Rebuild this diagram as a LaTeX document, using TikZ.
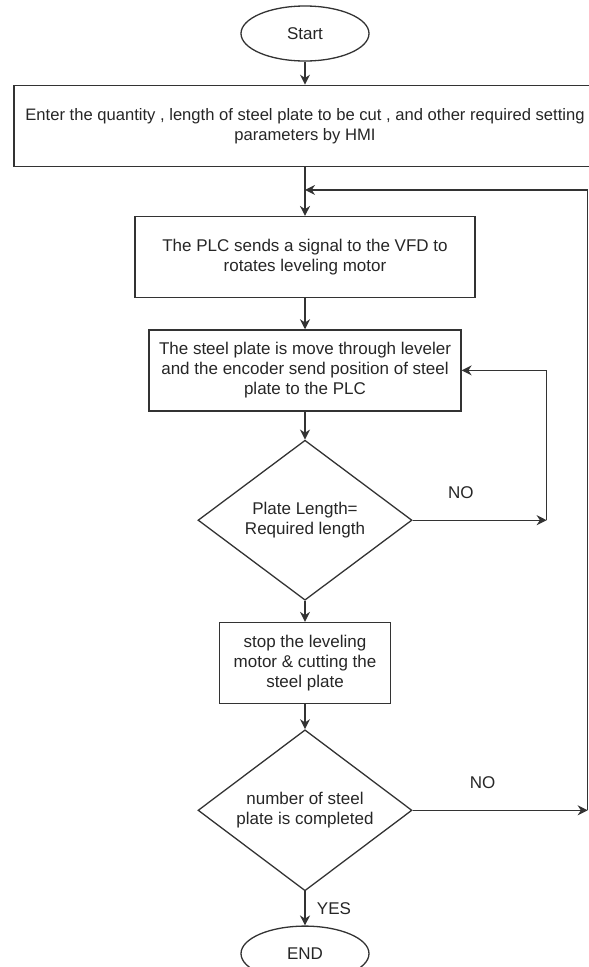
\documentclass[tikz,border=0pt]{standalone}
\usepackage{fontspec}
\setmainfont{Liberation Sans}
\usepackage{tikz}
\usetikzlibrary{arrows.meta,shapes,positioning}

\begin{document}
\begin{tikzpicture}[
        >={Stealth[length=10pt,width=10pt]},
        color=black!80,
        every node/.style={align=center, text=black!85, font=\fontsize{17pt}{20pt}\selectfont},
        every path/.style={line width=1.3pt},
        process/.style={draw, rectangle, minimum height=81pt, inner sep=0pt},
        terminal/.style={draw, ellipse, minimum width=128pt, minimum height=55pt, inner sep=0pt},
        decision/.style={draw, diamond, aspect=1.3, minimum width=214pt, minimum height=160pt, inner sep=0pt}
    ]

    \useasboundingbox (0,0) rectangle (589pt,-967pt);

    % Nodes
    \node[terminal] (start) at (305pt,-33.5pt) {Start};

    \node (input)[below=23pt of start, process, minimum width=582pt,
        font=\fontsize{16.6pt}{20pt}\selectfont] {Enter the quantity , length of steel plate to be cut , and other required setting \\
        parameters by HMI};

    \node (plc)[below=49pt of input, process, minimum width=340pt] {The PLC sends a signal to the VFD to \\
        rotates leveling motor};

    \node (move)[below=31pt of plc, process, minimum width=312pt] {The steel plate is move through leveler \\
        and the encoder send position of steel \\
        plate to the PLC};

    \node (check1)[below=28pt of move, decision] {Plate Length= \\
        Required length};

    \node (stop)[below=21pt of check1, process, minimum width=171pt] {stop the leveling \\
        motor \& cutting the \\
        steel plate};

    \node (check2)[below=25pt of stop, decision, minimum height=161pt] {number of steel \\
        plate is completed};

    \node (end)[below=34pt of check2, terminal] {END};

    \coordinate[below=23pt of input.south] (join);
    \coordinate[right=134pt of check1.east] (backB);
    \coordinate[right=175pt of check2.east] (backA);

    % Edges
    \draw[->] (start) -- (input);
    \draw[->] (input) -- (plc);
    \draw[->] (plc) -- (move);
    \draw[->] (move) -- (check1);
    \draw[->] (check1) -- (stop);
    \draw[->] (stop) -- (check2);
    \draw[->] (check2) -- node[right, xshift=8pt] {YES} (end);

    \draw[->] (check1.east) -- node[pos=0.36, yshift=28pt] {NO} (backB);
    \draw[->] (backB) |- (move.east);

    \draw[->] (check2.east) -- node[pos=0.4, yshift=27.5pt] {NO} (backA);
    \draw[->] (backA) |- (join);

\end{tikzpicture}
\end{document}
